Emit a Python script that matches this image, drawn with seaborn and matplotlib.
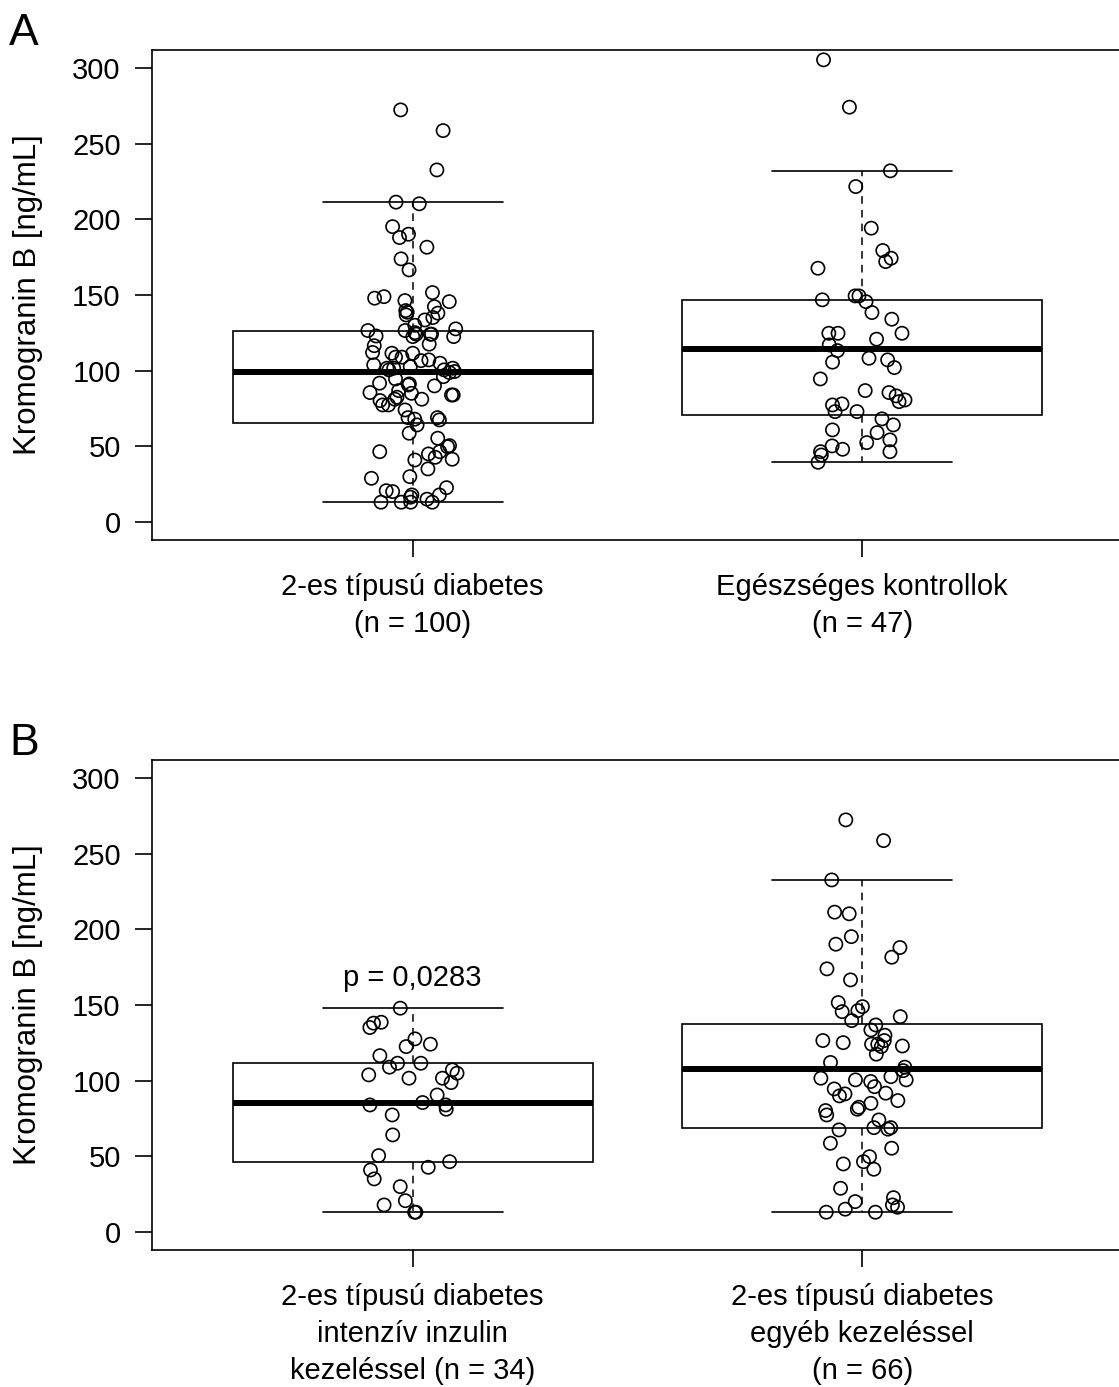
import numpy as np
import pandas as pd
import matplotlib
matplotlib.use("Agg")
import matplotlib.pyplot as plt
import seaborn as sns

sns.set_theme(style="ticks")
plt.rcParams["font.family"] = ["Liberation Sans", "DejaVu Sans"]
plt.rcParams.update({
    "text.color": "black",
    "axes.labelcolor": "black",
    "xtick.color": "black",
    "ytick.color": "black",
    "axes.edgecolor": "black",
})

# Category labels
cat_a = ["2-es típusú diabetes\n(n = 100)", "Egészséges kontrollok\n(n = 47)"]
cat_b = ["2-es típusú diabetes\nintenzív inzulin\nkezeléssel (n = 34)",
         "2-es típusú diabetes\negyéb kezeléssel\n(n = 66)"]

# Kromogranin B, ng/mL — diabetes patients on intensive insulin therapy
intensive = [147.9, 138.0, 138.6, 135.1, 127.6, 124.1, 122.5, 116.5, 111.5, 111.5,
             107.1, 104.9, 108.9, 103.8, 101.6, 98.7, 101.6, 90.5, 83.9, 85.5,
             81.1, 83.9, 77.3, 64.1, 50.4, 46.4, 40.9, 42.7, 35.0, 29.9,
             20.6, 17.8, 13.0, 13.0]

# diabetes patients on other treatment
other = [272.4, 258.7, 232.7, 211.4, 210.3, 195.2, 190.2, 188.0, 181.6, 173.9,
         166.6, 151.6, 146.3, 145.6, 148.9, 142.3, 139.7, 136.8, 133.5, 130.0,
         126.5, 126.5, 122.9, 124.1, 125.1, 124.1, 122.5, 117.5, 112.0, 108.9,
         106.6, 100.5, 99.4, 101.6, 100.5, 102.6, 96.0, 91.7, 94.5, 91.2,
         89.9, 85.0, 80.2, 86.8, 82.4, 81.1, 77.3, 74.0, 68.9, 68.9,
         67.4, 67.9, 58.6, 55.3, 49.7, 44.9, 46.4, 41.4, 28.8, 22.6,
         20.0, 16.3, 17.8, 13.0, 13.0, 15.0]

# healthy controls
controls = [305.5, 274.2, 232.1, 221.7, 194.2, 179.4, 174.3, 172.1, 167.7, 149.4,
            149.4, 146.8, 145.6, 138.4, 134.0, 124.7, 124.7, 124.7, 120.8, 117.0,
            113.2, 108.2, 105.6, 107.1, 102.0, 94.5, 86.8, 85.5, 80.6, 78.0,
            77.3, 83.3, 79.5, 72.9, 72.9, 68.1, 64.1, 60.8, 59.0, 54.2,
            52.4, 50.2, 46.4, 48.0, 46.4, 44.2, 39.4]

# all type 2 diabetes patients
diabetes = intensive + other

# five-number summaries: lower whisker, Q1, median, Q3, upper whisker
summary_diabetes = [13.0, 65.2, 99.4, 126.5, 211.6]
summary_controls = [39.4, 70.7, 114.2, 146.8, 232.1]
summary_intensive = [13.0, 46.4, 85.0, 111.5, 147.8]
summary_other = [13.0, 68.9, 107.5, 137.5, 232.7]

p_label = "p = 0,0283"
yticks = [0, 50, 100, 150, 200, 250, 300]
ylabel = "Kromogranin B [ng/mL]"

FS = 21

W, H = 1119, 1387
fig = plt.figure(figsize=(W / 100, H / 100), dpi=100)
ax_a = fig.add_axes([152 / W, 1 - 540 / H, 971 / W, 490 / H])
ax_b = fig.add_axes([152 / W, 1 - 1250 / H, 971 / W, 490 / H])


def draw_panel(ax, cats, groups, summaries):
    box_df = pd.DataFrame({
        "group": np.repeat(cats, 5),
        "value": np.concatenate(summaries),
    })
    sns.boxplot(data=box_df, x="group", y="value", order=cats,
                whis=(0, 100), width=0.8, fill=True, color="white",
                linecolor="black", linewidth=1.2, showfliers=False,
                medianprops=dict(linewidth=4.3, solid_capstyle="butt"),
                whiskerprops=dict(linestyle=(0, (5, 4)), linewidth=1.1),
                capprops=dict(linewidth=1.2), ax=ax)

    pts = pd.DataFrame({
        "group": np.repeat(cats, [len(g) for g in groups]),
        "value": np.concatenate(groups),
    })
    sns.stripplot(data=pts, x="group", y="value", order=cats, jitter=0.1,
                  size=9.5, color="black", ax=ax, zorder=5)
    for coll in ax.collections:
        coll.set_facecolor("none")
        coll.set_edgecolor("black")
        coll.set_linewidth(1.2)

    ax.set_xlim(-0.58, 1.58)
    ax.set_ylim(-12, 312)
    ax.set_yticks(yticks)
    ax.set_xlabel("")
    ax.set_ylabel(ylabel, fontsize=22.5)
    ax.yaxis.set_label_coords(-0.112, 0.5)
    ax.tick_params(axis="both", direction="out", length=12.5, width=1.2,
                   labelsize=FS, color="black")
    ax.tick_params(axis="y", pad=10)
    ax.tick_params(axis="x", pad=11)
    for t in ax.get_xticklabels():
        t.set_linespacing(1.42)
    for side in ["top", "right", "left", "bottom"]:
        ax.spines[side].set_visible(True)
        ax.spines[side].set_linewidth(1.2)
        ax.spines[side].set_color("black")


np.random.seed(7)
draw_panel(ax_a, cat_a, [diabetes, controls], [summary_diabetes, summary_controls])
draw_panel(ax_b, cat_b, [intensive, other], [summary_intensive, summary_other])

ax_b.annotate(p_label, xy=(0, summary_intensive[4]), xytext=(0, 12),
              textcoords="offset points", ha="center", va="bottom", fontsize=FS)

fig.text(9 / W, 1 - 45 / H, "A", fontsize=32, ha="left", va="baseline")
fig.text(9 / W, 1 - 755 / H, "B", fontsize=32, ha="left", va="baseline")

fig.savefig("out.png", dpi=100)
